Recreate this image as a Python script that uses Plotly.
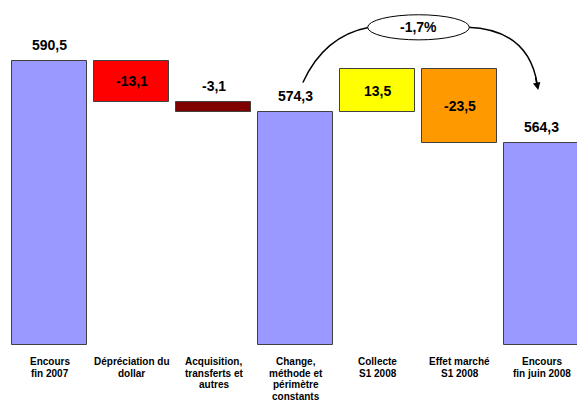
import plotly.graph_objects as go

categories = [["Encours", "fin 2007"], ["Dépréciation du", "dollar"],
              ["Acquisition,", "transferts et", "autres"],
              ["Change,", "méthode et", "périmètre", "constants"], ["Collecte", "S1 2008"],
              ["Effet marché", "S1 2008"], ["Encours", "fin juin 2008"]]
values = [590.5, -13.1, -3.1, 574.3, 13.5, -23.5, 564.3]
kinds = ["total", "delta", "delta", "total", "delta", "delta", "total"]
colors = ["#9999FF", "#FF0000", "#800000", "#9999FF", "#FFFF00", "#FF9900", "#9999FF"]

AXIS_MIN = 500.0
AXIS_MAX = 609.9

def fmt(v):
    return f"{v:.1f}".replace(".", ",")

xs = list(range(len(values)))
bases, heights = [], []
running = 0.0
for v, k in zip(values, kinds):
    if k == "total":
        bases.append(AXIS_MIN)
        heights.append(v - AXIS_MIN)
        running = v
    else:
        lo = min(running, running + v)
        bases.append(lo)
        heights.append(abs(v))
        running += v

fig = go.Figure(go.Bar(
    x=xs, y=heights, base=bases, width=0.915,
    marker=dict(color=colors, line=dict(color="#404040", width=1)),
    hoverinfo="skip",
))

font_val = dict(family="Liberation Sans, Arial", size=14, color="black")
font_cat = dict(family="Liberation Sans, Arial", size=10, color="black")
ann = []
for i, (v, k, b, h) in enumerate(zip(values, kinds, bases, heights)):
    if k == "total" or h < 5:
        ann.append(dict(x=i, y=b + h, xref="x", yref="y", text=f"<b>{fmt(v)}</b>",
                        showarrow=False, yanchor="bottom", yshift=6, font=font_val))
    else:
        ann.append(dict(x=i, y=b + h / 2, xref="x", yref="y", text=f"<b>{fmt(v)}</b>",
                        showarrow=False, font=font_val))
    for j, line in enumerate(categories[i]):
        ann.append(dict(x=i, y=0, xref="x", yref="paper", text=f"<b>{line}</b>",
                        showarrow=False, yanchor="middle", yshift=-16.5 - 11.6 * j,
                        font=font_cat))

# percentage change between the two constant-scope totals
pct = (values[6] - values[3]) / values[3] * 100
ex, ey = 4.5, 601.2
ann.append(dict(x=ex, y=ey, xref="x", yref="y", text=f"<b>{fmt(pct)}%</b>",
                showarrow=False, font=font_val))
# arrowhead
ann.append(dict(x=5.96, y=581.2, xref="x", yref="y", ax=-3, ay=-14, text="",
                showarrow=True, arrowhead=2, arrowsize=1, arrowwidth=1.5, arrowcolor="black",
                axref="pixel", ayref="pixel"))

shapes = [
    dict(type="path", xref="x", yref="y",
         path="M 3.09,583.6 Q 3.35,598.5 3.9,601.2",
         line=dict(color="black", width=1.5)),
    dict(type="path", xref="x", yref="y",
         path="M 5.1,601.2 Q 5.85,600.5 5.95,582.7",
         line=dict(color="black", width=1.5)),
    dict(type="circle", xref="x", yref="y", x0=3.88, x1=5.12, y0=597.2, y1=605.2,
         fillcolor="white", line=dict(color="black", width=1)),
]

fig.update_layout(
    width=577, height=402,
    margin=dict(l=0, r=0, t=0, b=57),
    paper_bgcolor="white", plot_bgcolor="white",
    showlegend=False,
    xaxis=dict(range=[-0.604, 6.433], showticklabels=False, showgrid=False, zeroline=False,
               showline=False, ticks=""),
    yaxis=dict(range=[AXIS_MIN, AXIS_MAX], visible=False),
    annotations=ann, shapes=shapes,
    bargap=0,
)

fig.write_html("out.html")
